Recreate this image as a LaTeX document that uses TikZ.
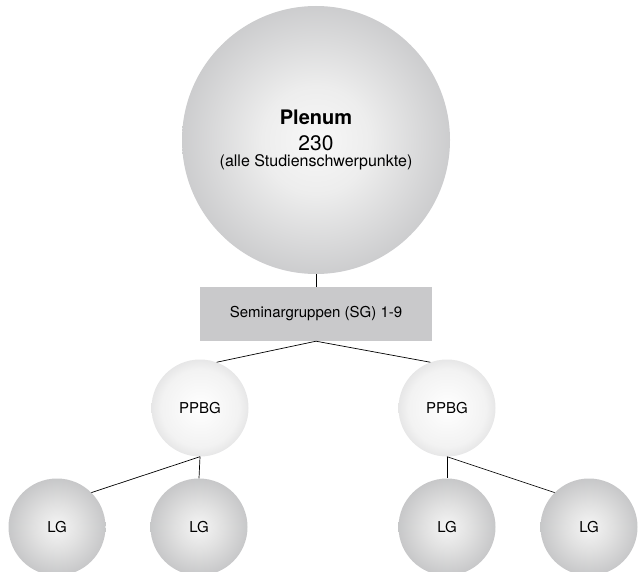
\documentclass[tikz,border=0pt]{standalone}
\usepackage{fontspec}
\setmainfont{TeX Gyre Heros}
\definecolor{plenumedge}{RGB}{150,151,155}
\definecolor{ppbgedge}{RGB}{172,172,175}
\definecolor{lgedge}{RGB}{150,151,155}
\definecolor{sgfill}{RGB}{201,201,203}
\pgfdeclareradialshading{plenumshade}{\pgfpoint{0bp}{0bp}}{color(0bp)=(white!97!black); color(10bp)=(white!93!black); color(50bp)=(plenumedge); color(100bp)=(plenumedge)}
\pgfdeclareradialshading{ppbgshade}{\pgfpoint{0bp}{0bp}}{color(0bp)=(white); color(20bp)=(white!95!black); color(50bp)=(ppbgedge); color(100bp)=(ppbgedge)}
\pgfdeclareradialshading{lgshade}{\pgfpoint{0bp}{0bp}}{color(0bp)=(white!96!black); color(12bp)=(white!88!black); color(50bp)=(lgedge); color(100bp)=(lgedge)}
\tikzset{
  ball/.style={circle,inner sep=0pt,shading=#1},
  plenumball/.style={ball=plenumshade,minimum size=268pt,align=center,font=\fontsize{20}{26}\selectfont},
  ppbgball/.style={ball=ppbgshade,minimum size=97pt,font=\fontsize{15}{18}\selectfont},
  lgball/.style={ball=lgshade,minimum size=97pt,font=\fontsize{15}{18}\selectfont},
  sgbox/.style={rectangle,fill=sgfill,minimum width=232pt,minimum height=54pt,font=\fontsize{15}{18}\selectfont},
  link/.style={draw=black,line width=0.7pt}
}
\begin{document}
\begin{tikzpicture}[x=1pt,y=-1pt]
  \useasboundingbox (0,0) rectangle (639,572);
  % Plenum
  \node[plenumball] (plenum) at (316,140)
    {\textbf{Plenum}\\
     {\fontsize{21}{26}\selectfont 230}\\[-10pt]
     {\fontsize{16}{16}\selectfont (alle Studienschwerpunkte)}};
  \node[sgbox] (sg) at (316,314) {Seminargruppen (SG) 1-9};
  % PPBG
  \node[ppbgball] (ppbgl) at (200,408) {PPBG};
  \node[ppbgball] (ppbgr) at (447,408) {PPBG};
  % LG
  \node[lgball] (lga) at (57,527) {LG};
  \node[lgball] (lgb) at (199,527) {LG};
  \node[lgball] (lgc) at (447,527) {LG};
  \node[lgball] (lgd) at (589,527) {LG};
  % connectors
  \draw[link] (plenum.south) -- (sg.north);
  \draw[link] (sg.south) -- (ppbgl.70);
  \draw[link] (sg.south) -- (ppbgr.110);
  \draw[link] (ppbgl.south) -- (lga.north east);
  \draw[link] (ppbgl.south) -- (lgb.north);
  \draw[link] (ppbgr.south) -- (lgc.north);
  \draw[link] (ppbgr.south) -- (lgd.north west);
\end{tikzpicture}
\end{document}
